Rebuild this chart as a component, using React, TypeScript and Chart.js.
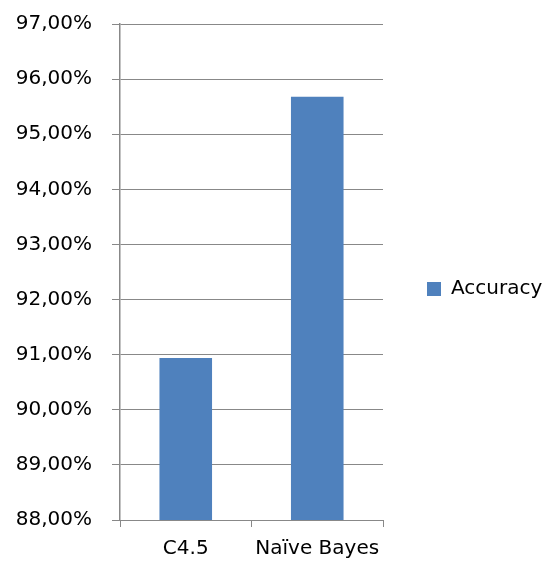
import React, { useEffect, useRef } from "react";
import { Chart, registerables } from "chart.js";

Chart.register(...registerables);

const categories = ["C4.5", "Naïve Bayes"];
const accuracyValues = [90.94, 95.68];
const seriesLabel = "Accuracy";
const yMin = 88;
const yMax = 97;
const yStep = 1;

const FONT = "'DejaVu Sans', sans-serif";
const GRID = "#888888";

export default function App() {
  const ref = useRef<HTMLCanvasElement | null>(null);

  useEffect(() => {
    if (!ref.current) return;
    const chart = new Chart(ref.current, {
      type: "bar",
      data: {
        labels: categories,
        datasets: [
          {
            label: seriesLabel,
            data: accuracyValues,
            backgroundColor: "#4F81BD",
            borderWidth: 0,
            barPercentage: 0.4,
            categoryPercentage: 1,
          },
        ],
      },
      options: {
        responsive: false,
        animation: false,
        layout: { padding: { top: 11, bottom: 0, left: 0, right: 0 } },
        plugins: {
          tooltip: { enabled: false },
          legend: {
            position: "right",
            align: "center",
            maxWidth: 168,
            labels: {
              boxWidth: 14,
              boxHeight: 14,
              padding: 44,
              color: "#000",
              font: { family: FONT, size: 20 },
            },
          },
        },
        scales: {
          x: {
            grid: {
              display: true,
              drawOnChartArea: false,
              drawTicks: true,
              tickLength: 7,
              color: GRID,
              offset: true,
            },
            border: { display: true, color: GRID, width: 1 },
            ticks: {
              color: "#000",
              padding: 10,
              font: { family: FONT, size: 20 },
              maxRotation: 0,
            },
            afterFit: (scale: any) => {
              scale.height = 47;
            },
          },
          y: {
            min: yMin,
            max: yMax,
            grid: { color: GRID, tickLength: 8, lineWidth: 1 },
            border: { display: true, color: GRID, width: 1.5 },
            ticks: {
              stepSize: yStep,
              color: "#000",
              padding: 20,
              font: { family: FONT, size: 20 },
              callback: (v: any) => Number(v).toFixed(2).replace(".", ",") + "%",
            },
            afterFit: (scale: any) => {
              scale.width = 120;
              scale.paddingTop = 24;
            },
          },
        },
      },
    });
    return () => chart.destroy();
  }, []);

  return (
    <div style={{ position: "absolute", left: 0, top: 0, width: 551, height: 567, background: "#fff" }}>
      <canvas ref={ref} width={551} height={567} style={{ display: "block" }} />
    </div>
  );
}
